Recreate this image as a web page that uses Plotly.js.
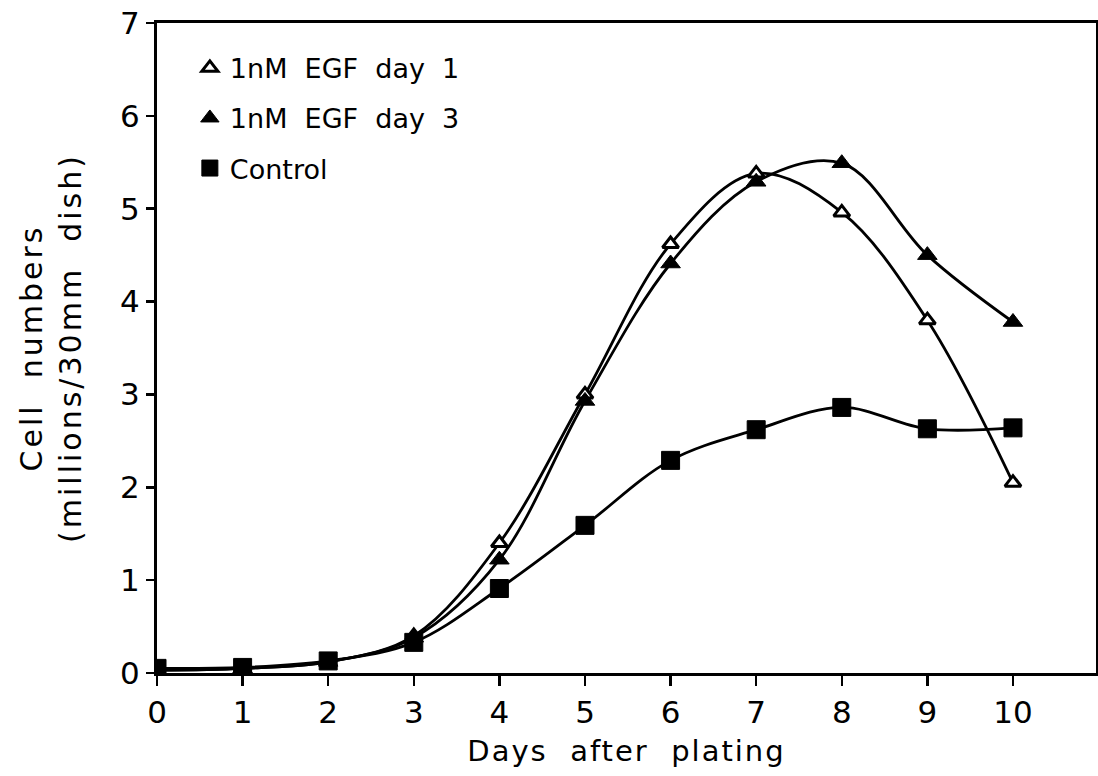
<!DOCTYPE html>
<html><head><meta charset="utf-8">
<script src="https://cdn.plot.ly/plotly-3.0.1.min.js"></script>
<style>
html,body{margin:0;padding:0;background:#fff;}
#chart{width:1098px;height:776px;}
#chart .xtitle {letter-spacing:2px;}
#chart .ytitle {letter-spacing:3px;}
</style></head><body><div id="chart"></div>
<script>
const days = [0, 1, 2, 3, 4, 5, 6, 7, 8, 9, 10];
const egfDay1 = [0.03, 0.05, 0.12, 0.40, 1.40, 3.00, 4.62, 5.38, 4.96, 3.80, 2.05];
const egfDay3 = [0.03, 0.05, 0.12, 0.38, 1.22, 2.93, 4.41, 5.29, 5.49, 4.50, 3.78];
const control = [0.05, 0.06, 0.13, 0.33, 0.91, 1.59, 2.29, 2.62, 2.86, 2.63, 2.64];
const seriesNames = ['1nM\u00a0\u00a0EGF\u00a0\u00a0day\u00a0\u00a01', '1nM\u00a0\u00a0EGF\u00a0\u00a0day\u00a0\u00a03', 'Control'];
const xTickVals = [0, 1, 2, 3, 4, 5, 6, 7, 8, 9, 10];
const yTickVals = [0, 1, 2, 3, 4, 5, 6, 7];
const xTitle = 'Days\u00a0\u00a0after\u00a0\u00a0plating';
const yTitle = 'Cell\u00a0\u00a0numbers<br>(millions/30mm\u00a0\u00a0dish)';

const FONT = 'DejaVu Sans, Liberation Sans, sans-serif';
const seriesY = [egfDay1, egfDay3, control];
const markerStyles = [
  {symbol: 'triangle-up', size: 14, color: '#ffffff', line: {color: '#000', width: 3}},
  {symbol: 'triangle-up', size: 17, color: '#000000', line: {color: '#000', width: 1}},
  {symbol: 'square', size: 18, color: '#000000', line: {color: '#000', width: 1}}
];

const traces = [];
seriesY.forEach((ys, i) => {
  traces.push({
    x: days, y: ys, mode: 'lines', type: 'scatter',
    line: {color: '#000', width: 2.8, shape: 'spline', smoothing: 1},
    showlegend: false, hoverinfo: 'skip', legendgroup: 'g' + i
  });
});
seriesY.forEach((ys, i) => {
  traces.push({
    x: days, y: ys, mode: 'markers', type: 'scatter', name: seriesNames[i],
    marker: markerStyles[i], legendgroup: 'g' + i
  });
});

const layout = {
  width: 1098, height: 776,
  margin: {l: 157, r: 2, t: 23, b: 103},
  paper_bgcolor: '#fff', plot_bgcolor: '#fff',
  font: {family: FONT, color: '#000', size: 28},
  showlegend: true,
  legend: {
    x: 0.035, y: 0.968, xanchor: 'left', yanchor: 'top',
    bgcolor: 'rgba(0,0,0,0)', borderwidth: 0,
    font: {family: FONT, size: 27, color: '#000'},
    traceorder: 'grouped', tracegroupgap: 12
  },
  xaxis: {
    range: [0, 10.97], tickvals: xTickVals, ticktext: xTickVals.map(String),
    showline: true, linecolor: '#000', linewidth: 3, mirror: true,
    ticks: 'outside', ticklen: 10, tickwidth: 2.5, tickcolor: '#000',
    showgrid: false, zeroline: false,
    tickfont: {family: FONT, size: 31, color: '#000'},
    title: {text: xTitle, font: {family: FONT, size: 29, color: '#000'}, standoff: 12},
    automargin: false
  },
  yaxis: {
    range: [0, 7], tickvals: yTickVals, ticktext: yTickVals.map(String),
    showline: true, linecolor: '#000', linewidth: 3, mirror: true,
    ticks: 'outside', ticklen: 8, tickwidth: 2.5, tickcolor: '#000',
    showgrid: false, zeroline: false,
    tickfont: {family: FONT, size: 31, color: '#000'},
    title: {text: yTitle, font: {family: FONT, size: 30, color: '#000'}, standoff: 30},
    automargin: false
  }
};

Plotly.newPlot('chart', traces, layout, {displayModeBar: false, staticPlot: true});
</script>
</body></html>
